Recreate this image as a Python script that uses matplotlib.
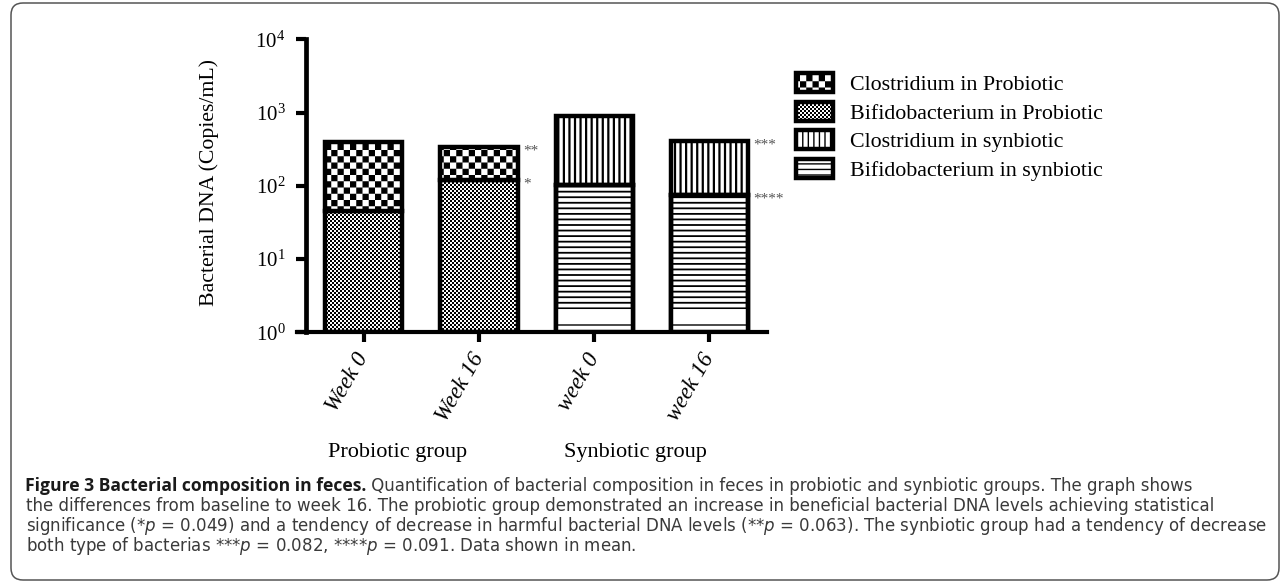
import warnings
import matplotlib
matplotlib.use('Agg')
import matplotlib.pyplot as plt
import matplotlib.hatch as mhatch
from matplotlib.path import Path
from matplotlib.patches import FancyBboxPatch
from matplotlib.transforms import IdentityTransform
from matplotlib.ticker import NullLocator

warnings.filterwarnings('ignore', message='hatch must consist')

# data (copies/mL, log axis)
week_labels = ['Week 0', 'Week 16', 'week 0', 'week 16']
prob_x = [0, 1]
syn_x = [2, 3]
prob_bifido = [45, 121]
prob_clost = [355, 214]
syn_bifido = [101, 74]
syn_clost = [786, 340]
group_labels = ['Probiotic group', 'Synbiotic group']
legend_labels = ['Clostridium in Probiotic', 'Bifidobacterium in Probiotic',
                 'Clostridium in synbiotic', 'Bifidobacterium in synbiotic']

caption_bold = 'Figure 3 Bacterial composition in feces.'
caption_lines = [
    ' Quantification of bacterial composition in feces in probiotic and synbiotic groups. The graph shows',
    'the differences from baseline to week 16. The probiotic group demonstrated an increase in beneficial bacterial DNA levels achieving statistical',
    r'significance (*$\mathit{p}$ = 0.049) and a tendency of decrease in harmful bacterial DNA levels (**$\mathit{p}$ = 0.063). The synbiotic group had a tendency of decrease',
    r'both type of bacterias ***$\mathit{p}$ = 0.082, ****$\mathit{p}$ = 0.091. Data shown in mean.',
]


# checkerboard hatch: 'c' = coarse, 'f' = fine
class CheckerHatch(mhatch.HatchPatternBase):
    filled = True

    def __init__(self, hatch, density):
        self.cells = 16 if 'c' in hatch else (50 if 'f' in hatch else 0)
        self.num_vertices = self.cells * self.cells // 2 * 5

    def set_vertices_and_codes(self, vertices, codes):
        n = self.cells
        s = 1.0 / n
        e = 0.0069  # half the hatch stroke
        k = 0
        for i in range(n):
            for j in range(n):
                if (i + j) % 2:
                    continue
                x0, y0, x1, y1 = i * s + e, j * s + e, (i + 1) * s - e, (j + 1) * s - e
                vertices[k:k + 5] = [(x0, y0), (x1, y0), (x1, y1), (x0, y1), (x0, y0)]
                codes[k:k + 5] = [Path.MOVETO, Path.LINETO, Path.LINETO, Path.LINETO, Path.CLOSEPOLY]
                k += 5


mhatch._hatch_types.append(CheckerHatch)

plt.rcParams['font.family'] = 'Liberation Serif'
plt.rcParams['mathtext.fontset'] = 'custom'
plt.rcParams['mathtext.it'] = 'DejaVu Sans:italic'
plt.rcParams['mathtext.rm'] = 'DejaVu Sans'

W, H = 1281, 584
fig = plt.figure(figsize=(W / 100, H / 100), dpi=100)
ax = fig.add_axes([297 / W, 1 - 332.3 / H, 470 / W, 293 / H])

bw = 0.67
lw = 3.2
bar_kw = dict(width=bw, edgecolor='black', linewidth=lw, facecolor='white', zorder=2)


def thick_hatch(bars, w=1.6):
    for b in bars:
        if hasattr(b, 'set_hatch_linewidth'):
            b.set_hatch_linewidth(w)


pb = [v - 1 for v in prob_bifido]
sb = [v - 1 for v in syn_bifido]
b2 = ax.bar(prob_x, pb, bottom=1, hatch='f', label=legend_labels[1], **bar_kw)
b1 = ax.bar(prob_x, prob_clost, bottom=prob_bifido, hatch='c', label=legend_labels[0], **bar_kw)
b4 = ax.bar(syn_x, sb, bottom=1, hatch='---', label=legend_labels[3], **bar_kw)
b3 = ax.bar(syn_x, syn_clost, bottom=syn_bifido, hatch='|||', label=legend_labels[2], **bar_kw)
thick_hatch(b3, 1.6)
thick_hatch(b4, 1.3)

# lighter bottom band in the synbiotic bars
floor_top = 2.1
ax.bar(syn_x, floor_top - 1, bottom=1, width=bw, facecolor='white', edgecolor='black',
       linewidth=0, hatch='-', zorder=2.1)
ax.bar(syn_x, sb, bottom=1, width=bw, fill=False, edgecolor='black', linewidth=lw, zorder=2.2)

# significance marks
star_kw = dict(textcoords='offset points', fontsize=11, color='#555555', va='center', ha='left')
ax.annotate('**', (prob_x[1] + bw / 2, prob_bifido[1] + prob_clost[1]), xytext=(4, -3), **star_kw)
ax.annotate('*', (prob_x[1] + bw / 2, prob_bifido[1]), xytext=(4, -3), **star_kw)
ax.annotate('***', (syn_x[1] + bw / 2, syn_bifido[1] + syn_clost[1]), xytext=(4, -3), **star_kw)
ax.annotate('****', (syn_x[1] + bw / 2, syn_bifido[1]), xytext=(4, -3), **star_kw)

ax.set_yscale('log')
ax.set_ylim(1, 1e4)
ax.set_xlim(-0.581, 3.5)
ax.set_yticks([1, 10, 100, 1000, 10000])
ax.yaxis.set_minor_locator(NullLocator())
ax.set_xticks(prob_x + syn_x)
ax.set_xticklabels(week_labels, rotation=60, ha='right', va='center',
                   rotation_mode='anchor', fontstyle='italic', fontsize=16.5)
ax.spines['top'].set_visible(False)
ax.spines['right'].set_visible(False)
ax.spines['left'].set_position(('data', -0.5))
ax.spines['left'].set_linewidth(3.4)
ax.spines['bottom'].set_linewidth(3.0)
ax.tick_params(axis='y', length=7, width=3, pad=8, labelsize=15)
ax.tick_params(axis='x', length=7, width=3, pad=9)

fig.text(209 / W, 1 - 183 / H, 'Bacterial DNA (Copies/mL)', rotation=90,
         ha='center', va='center', fontsize=15.7)
fig.text(398 / W, 1 - 457 / H, group_labels[0], ha='center', va='baseline', fontsize=16)
fig.text(635 / W, 1 - 457 / H, group_labels[1], ha='center', va='baseline', fontsize=16)

handles, labels = ax.get_legend_handles_labels()
order = [labels.index(l) for l in legend_labels]
leg = ax.legend([handles[i] for i in order], [labels[i] for i in order],
                loc='upper left', bbox_to_anchor=(796 / W, 1 - 73 / H),
                bbox_transform=fig.transFigure, frameon=False, fontsize=15.8,
                borderpad=0, borderaxespad=0, handlelength=1.67, handleheight=0.95,
                handletextpad=0.77, labelspacing=0.3)

# caption
cap_kw = dict(fontsize=12, family='DejaVu Sans', va='baseline')
renderer = fig.canvas.get_renderer()
tb = fig.text(25 / W, 1 - 491 / H, caption_bold, fontweight='bold', color='#1a1a1a',
              fontsize=12.6, family='Open Sans', va='baseline')
x_after = tb.get_window_extent(renderer).x1
fig.text(x_after / W, 1 - 491 / H, caption_lines[0], color='#3a3a3a', **cap_kw)
for i, line in enumerate(caption_lines[1:]):
    fig.text(26 / W, 1 - (511 + 20 * i) / H, line, color='#3a3a3a', **cap_kw)

# rounded frame round the whole figure
frame = FancyBboxPatch((11, H - 580), 1268, 577, boxstyle='round,pad=0,rounding_size=12',
                       transform=IdentityTransform(), fill=False, edgecolor='#555555', linewidth=1.1)
fig.add_artist(frame)

fig.savefig('out.png', dpi=100)
